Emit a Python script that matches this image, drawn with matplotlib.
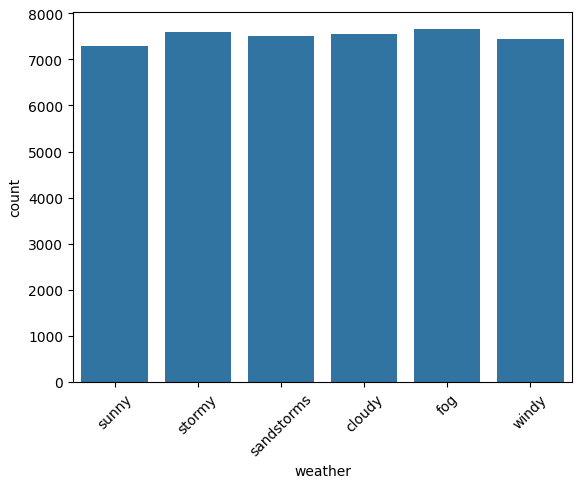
import matplotlib
matplotlib.use("Agg")
import matplotlib.pyplot as plt

categories = ["sunny", "stormy", "sandstorms", "cloudy", "fog", "windy"]
counts = [7283, 7587, 7500, 7543, 7652, 7435]

fig = plt.figure(figsize=(5.8, 4.89), dpi=100)
ax = fig.add_axes([0.126, 0.217, 0.86, 0.757])
ax.bar(range(len(categories)), counts, width=0.8, color="#3274a1")
ax.set_xlim(-0.5, len(categories) - 0.5)
ax.set_ylim(0, max(counts) * 1.05)
ax.set_xticks(range(len(categories)))
ax.set_xticklabels(categories, rotation=45)
ax.set_xlabel("weather")
ax.set_ylabel("count")
fig.savefig("out.png", dpi=100)
